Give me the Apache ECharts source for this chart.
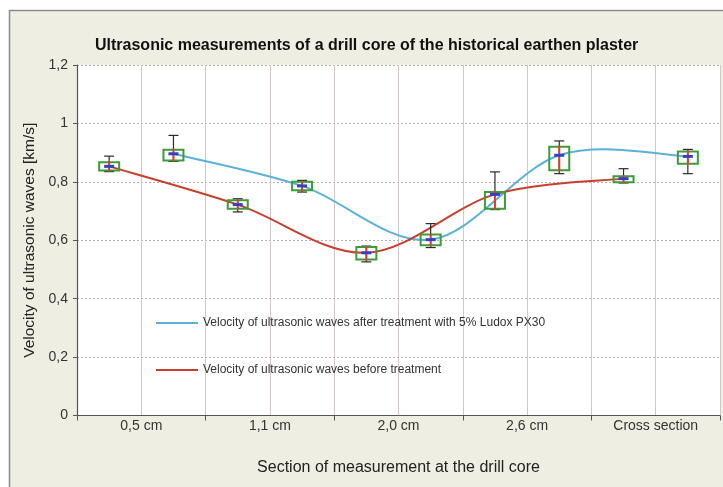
<!DOCTYPE html>
<html>
<head>
<meta charset="utf-8">
<script src="https://cdn.jsdelivr.net/npm/echarts@6/dist/echarts.min.js"></script>
<style>
  html, body { margin: 0; padding: 0; background: #ffffff; }
  #chart { width: 723px; height: 487px; }
</style>
</head>
<body>
<div id="chart"></div>
<script>
// Sections of the drill core (axis labels)
const sections = ['0,5 cm', '1,1 cm', '2,0 cm', '2,6 cm', 'Cross section'];

// Velocity before treatment [km/s]: mean, box (q1..q3) and whiskers (low..high)
const beforeMean = [0.853, 0.722, 0.557, 0.757, 0.811];
const beforeQ1   = [0.839, 0.708, 0.534, 0.708, 0.800];
const beforeQ3   = [0.867, 0.737, 0.577, 0.765, 0.819];
const beforeLow  = [0.835, 0.697, 0.526, 0.705, 0.796];
const beforeHigh = [0.888, 0.742, 0.580, 0.834, 0.845];

// Velocity after treatment with 5% Ludox PX30 [km/s]
const afterMean = [0.896, 0.786, 0.602, 0.891, 0.887];
const afterQ1   = [0.873, 0.771, 0.583, 0.840, 0.862];
const afterQ3   = [0.910, 0.800, 0.620, 0.920, 0.904];
const afterLow  = [0.870, 0.765, 0.575, 0.828, 0.828];
const afterHigh = [0.959, 0.805, 0.657, 0.940, 0.911];

const yTicks = { min: 0, max: 1.2, step: 0.2 };

const nameAfter = 'Velocity of ultrasonic waves after treatment with 5% Ludox PX30';
const nameBefore = 'Velocity of ultrasonic waves before treatment';

const COLOR_AFTER = '#5ab2da';
const COLOR_BEFORE = '#c8402c';

// Each section is split in two slots: "before" sits left, "after" sits right
const slots = [];
sections.forEach((s, i) => { slots.push(s + ' a'); slots.push(s + ' b'); });
const slotOf = (i, right) => 2 * i + (right ? 1 : 0);

const linePoints = (vals, right) => vals.map((v, i) => [slotOf(i, right), v]);
const boxPoints = (low, q1, mean, q3, high, right) =>
  mean.map((m, i) => [slotOf(i, right), low[i], q1[i], m, q3[i], high[i]]);

const FONT = 'Liberation Sans, Arial, sans-serif';

// Smoothed line (Catmull-Rom turned into cubic Bezier pieces) through the means
function smoothRenderer(points, color) {
  return function (params, api) {
    if (params.dataIndex !== 0) return null;
    const p = points.map(d => api.coord(d));
    const n = p.length;
    const children = [];
    for (let i = 0; i < n - 1; i++) {
      const p0 = p[Math.max(i - 1, 0)], p1 = p[i], p2 = p[i + 1], p3 = p[Math.min(i + 2, n - 1)];
      const t = 1 / 6;
      children.push({
        type: 'bezierCurve',
        shape: {
          x1: p1[0], y1: p1[1], x2: p2[0], y2: p2[1],
          cpx1: p1[0] + (p2[0] - p0[0]) * t, cpy1: p1[1] + (p2[1] - p0[1]) * t,
          cpx2: p2[0] - (p3[0] - p1[0]) * t, cpy2: p2[1] - (p3[1] - p1[1]) * t
        },
        style: { stroke: color, lineWidth: 2, fill: null }
      });
    }
    return { type: 'group', children };
  };
}

function renderBox(params, api) {
  const slot = api.value(0);
  const xc = api.coord([slot, 0])[0];
  const yLow = api.coord([slot, api.value(1)])[1];
  const yQ1 = api.coord([slot, api.value(2)])[1];
  const yMid = api.coord([slot, api.value(3)])[1];
  const yQ3 = api.coord([slot, api.value(4)])[1];
  const yHigh = api.coord([slot, api.value(5)])[1];
  const bw = 20, cw = 10;
  const black = { stroke: '#2a2a2a', lineWidth: 1.2 };
  return {
    type: 'group',
    children: [
      { type: 'line', shape: { x1: xc, y1: yLow, x2: xc, y2: yHigh }, style: black },
      { type: 'line', shape: { x1: xc - cw / 2, y1: yLow, x2: xc + cw / 2, y2: yLow }, style: black },
      { type: 'line', shape: { x1: xc - cw / 2, y1: yHigh, x2: xc + cw / 2, y2: yHigh }, style: black },
      { type: 'rect', shape: { x: xc - bw / 2, y: yQ3, width: bw, height: Math.max(yQ1 - yQ3, 6) },
        style: { fill: 'rgba(255,255,255,0)', stroke: '#3f9a3a', lineWidth: 2 } },
      { type: 'line', shape: { x1: xc, y1: yQ3 - 1, x2: xc, y2: yQ1 + 1 },
        style: { stroke: '#e0402a', lineWidth: 2 } },
      { type: 'line', shape: { x1: xc - 5, y1: yMid, x2: xc + 5, y2: yMid },
        style: { stroke: '#3440c8', lineWidth: 3 } }
    ]
  };
}

const chart = echarts.init(document.getElementById('chart'), null, { renderer: 'canvas' });

const afterLine = linePoints(afterMean, true);
const beforeLine = linePoints(beforeMean, false);

chart.setOption({
  animation: false,
  backgroundColor: '#ffffff',
  graphic: [
    { type: 'rect', z: -10, shape: { x: 9.5, y: 10.5, width: 740, height: 500 },
      style: { fill: '#eeeee2', stroke: '#8c8c8c', lineWidth: 1.5 } }
  ],
  title: {
    text: 'Ultrasonic measurements of a drill core of the historical earthen plaster',
    left: 90, top: 33,
    textStyle: { fontFamily: FONT, fontSize: 16, fontWeight: 'bold', color: '#111' }
  },
  legend: [
    { data: [{ name: nameAfter, itemStyle: { color: COLOR_AFTER } }], left: 151, top: 312,
      orient: 'vertical', icon: 'rect', itemWidth: 42, itemHeight: 2,
      textStyle: { fontFamily: FONT, fontSize: 12, color: '#333' } },
    { data: [{ name: nameBefore, itemStyle: { color: COLOR_BEFORE } }], left: 151, top: 359,
      orient: 'vertical', icon: 'rect', itemWidth: 42, itemHeight: 2,
      textStyle: { fontFamily: FONT, fontSize: 12, color: '#333' } }
  ],
  grid: { left: 77, right: 3, top: 65, bottom: 71.5, backgroundColor: '#ffffff', show: true, borderWidth: 0 },
  xAxis: [
    {
      type: 'category', data: slots, boundaryGap: true,
      axisLine: { show: false }, axisTick: { show: false }, axisLabel: { show: false, interval: 0 },
      splitLine: { show: true, interval: 0, lineStyle: { color: '#d2c8c8', width: 1 } }
    },
    {
      type: 'category', data: sections, boundaryGap: true, position: 'bottom',
      axisLine: { show: true, lineStyle: { color: '#555', width: 1 } },
      axisTick: { show: true, length: 5, lineStyle: { color: '#555' } },
      axisLabel: { fontFamily: FONT, fontSize: 14, color: '#333', margin: 4, interval: 0 },
      splitLine: { show: false },
      name: 'Section of measurement at the drill core',
      nameLocation: 'middle', nameGap: 44,
      nameTextStyle: { fontFamily: FONT, fontSize: 16, color: '#222' }
    }
  ],
  yAxis: {
    type: 'value', min: yTicks.min, max: yTicks.max, interval: yTicks.step,
    axisLine: { show: true, lineStyle: { color: '#555', width: 1.2 } },
    axisTick: { show: true, length: 4, lineStyle: { color: '#555' } },
    axisLabel: {
      fontFamily: FONT, fontSize: 14, color: '#333', margin: 9,
      formatter: v => String(Math.round(v * 10) / 10).replace('.', ',')
    },
    splitLine: { show: true, lineStyle: { color: '#b8b0b0', type: [2, 2], width: 1 } },
    name: 'Velocity of ultrasonic waves [km/s]',
    nameLocation: 'middle', nameGap: 39,
    nameTextStyle: { fontFamily: FONT, fontSize: 15.5, color: '#222' }
  },
  series: [
    {
      name: nameAfter, type: 'custom', xAxisIndex: 0, z: 2,
      itemStyle: { color: COLOR_AFTER },
      renderItem: smoothRenderer(afterLine, COLOR_AFTER),
      encode: { x: 0, y: 1 },
      data: afterLine
    },
    {
      name: nameBefore, type: 'custom', xAxisIndex: 0, z: 2,
      itemStyle: { color: COLOR_BEFORE },
      renderItem: smoothRenderer(beforeLine, COLOR_BEFORE),
      encode: { x: 0, y: 1 },
      data: beforeLine
    },
    {
      type: 'custom', xAxisIndex: 0, renderItem: renderBox, z: 5,
      encode: { x: 0, y: [1, 2, 3, 4, 5] },
      data: boxPoints(afterLow, afterQ1, afterMean, afterQ3, afterHigh, true)
    },
    {
      type: 'custom', xAxisIndex: 0, renderItem: renderBox, z: 5,
      encode: { x: 0, y: [1, 2, 3, 4, 5] },
      data: boxPoints(beforeLow, beforeQ1, beforeMean, beforeQ3, beforeHigh, false)
    }
  ]
});
</script>
</body>
</html>
